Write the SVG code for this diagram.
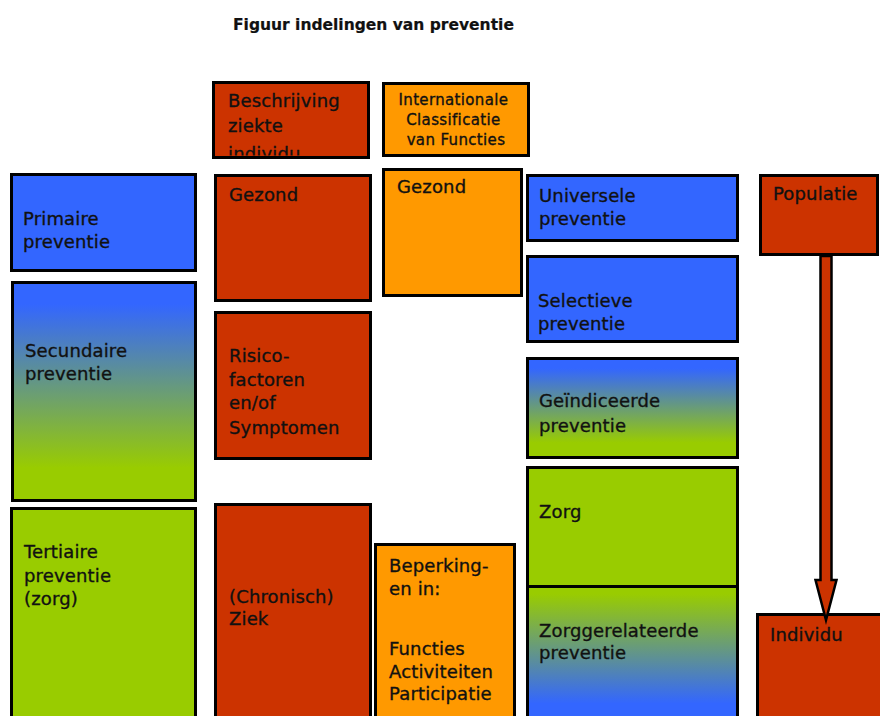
<svg xmlns="http://www.w3.org/2000/svg" width="880" height="716" viewBox="0 0 880 716">
  <style>
    .box { stroke: #000; stroke-width: 3; }
    .red { fill: #CC3300; }
    .orange { fill: #FF9900; }
    .blue { fill: #3366FF; }
    .green { fill: #99CC00; }
    text { font-family: "DejaVu Sans", "Liberation Sans", sans-serif; fill: #111; stroke: #111; stroke-width: 0.35px; }
    .lbl { font-size: 18px; letter-spacing: 0.15px; }
    .icf { font-size: 15px; letter-spacing: 0.35px; text-anchor: middle; }
    .title { font-size: 15.5px; font-weight: bold; stroke-width: 0.2px; }
  </style>
  <defs>
    <linearGradient id="blueToGreen" x1="0" y1="0" x2="0" y2="1">
      <stop offset="0.1" stop-color="#3366FF"/>
      <stop offset="0.85" stop-color="#99CC00"/>
    </linearGradient>
    <linearGradient id="greenToBlue" x1="0" y1="0" x2="0" y2="1">
      <stop offset="0.05" stop-color="#99CC00"/>
      <stop offset="0.78" stop-color="#3366FF"/>
    </linearGradient>
    <clipPath id="clipDesc">
      <rect x="213.5" y="82.5" width="155" height="73"/>
    </clipPath>
  </defs>

  <rect width="880" height="716" fill="#fff"/>

  <text class="title" x="233" y="30">Figuur indelingen van preventie</text>

  <!-- column headers -->
  <g id="beschrijving">
    <rect class="box red" x="213.5" y="82.5" width="155" height="75"/>
    <text class="lbl" clip-path="url(#clipDesc)">
      <tspan x="228" y="107">Beschrijving</tspan>
      <tspan x="228" y="132">ziekte</tspan>
      <tspan x="228" y="160">individu</tspan>
    </text>
  </g>

  <g id="icf">
    <rect class="box orange" x="383.5" y="83.5" width="145" height="72"/>
    <text class="icf">
      <tspan x="456" y="105">Internationale</tspan>
      <tspan x="456" y="125">Classificatie</tspan>
      <tspan x="456" y="145">van Functies</tspan>
    </text>
  </g>

  <!-- left column: classic prevention levels -->
  <g id="primaire">
    <rect class="box blue" x="11.5" y="174.5" width="184" height="96"/>
    <text class="lbl"><tspan x="23" y="225">Primaire</tspan><tspan x="23" y="248">preventie</tspan></text>
  </g>

  <g id="secundaire">
    <rect class="box" fill="url(#blueToGreen)" x="12.5" y="282.5" width="183" height="218"/>
    <text class="lbl"><tspan x="25" y="357">Secundaire</tspan><tspan x="25" y="380">preventie</tspan></text>
  </g>

  <g id="tertiaire">
    <rect class="box green" x="11.5" y="508.5" width="184" height="230"/>
    <text class="lbl"><tspan x="24" y="558">Tertiaire</tspan><tspan x="24" y="582">preventie</tspan><tspan x="24" y="605">(zorg)</tspan></text>
  </g>

  <!-- disease stages -->
  <g id="gezond-ziekte">
    <rect class="box red" x="215.5" y="175.5" width="155" height="125"/>
    <text class="lbl" x="229" y="201">Gezond</text>
  </g>

  <g id="risico">
    <rect class="box red" x="215.5" y="312.5" width="155" height="146"/>
    <text class="lbl"><tspan x="229" y="362">Risico-</tspan><tspan x="229" y="386">factoren</tspan><tspan x="229" y="409">en/of</tspan><tspan x="229" y="434">Symptomen</tspan></text>
  </g>

  <g id="ziek">
    <rect class="box red" x="215.5" y="504.5" width="155" height="230"/>
    <text class="lbl"><tspan x="229" y="603">(Chronisch)</tspan><tspan x="229" y="625">Ziek</tspan></text>
  </g>

  <!-- ICF stages -->
  <g id="gezond-icf">
    <rect class="box orange" x="383.5" y="169.5" width="138" height="126"/>
    <text class="lbl" x="397" y="193">Gezond</text>
  </g>

  <g id="beperkingen">
    <rect class="box orange" x="375.5" y="544.5" width="139" height="190"/>
    <text class="lbl"><tspan x="389" y="572">Beperking-</tspan><tspan x="389" y="595">en in:</tspan><tspan x="389" y="655">Functies</tspan><tspan x="389" y="678">Activiteiten</tspan><tspan x="389" y="700">Participatie</tspan></text>
  </g>

  <!-- population based prevention types -->
  <g id="universele">
    <rect class="box blue" x="527.5" y="175.5" width="210" height="65"/>
    <text class="lbl"><tspan x="539" y="202">Universele</tspan><tspan x="539" y="225">preventie</tspan></text>
  </g>

  <g id="selectieve">
    <rect class="box blue" x="527.5" y="256.5" width="210" height="85"/>
    <text class="lbl"><tspan x="538" y="307">Selectieve</tspan><tspan x="538" y="330">preventie</tspan></text>
  </g>

  <g id="geindiceerde">
    <rect class="box" fill="url(#blueToGreen)" x="527.5" y="358.5" width="210" height="99"/>
    <text class="lbl"><tspan x="539" y="407">Geïndiceerde</tspan><tspan x="539" y="432">preventie</tspan></text>
  </g>

  <g id="zorg">
    <rect class="box green" x="527.5" y="467.5" width="210" height="119"/>
    <text class="lbl" x="539" y="518">Zorg</text>
  </g>

  <g id="zorggerelateerde">
    <rect class="box" fill="url(#greenToBlue)" x="527.5" y="586.5" width="210" height="150"/>
    <text class="lbl"><tspan x="539" y="637">Zorggerelateerde</tspan><tspan x="539" y="659">preventie</tspan></text>
  </g>

  <!-- scale axis -->
  <g id="populatie">
    <rect class="box red" x="760.5" y="175.5" width="117" height="79"/>
    <text class="lbl" x="773" y="200">Populatie</text>
  </g>

  <g id="individu">
    <rect class="box red" x="757.5" y="614.5" width="130" height="120"/>
    <text class="lbl" x="770" y="641">Individu</text>
  </g>

  <g id="connectors">
    <polygon points="820.5,256 831.5,256 831.5,580 836.5,580 826,620 815.5,580 820.5,580" fill="#CC3300" stroke="#000" stroke-width="2.5" stroke-linejoin="miter"/>
  </g>
</svg>
